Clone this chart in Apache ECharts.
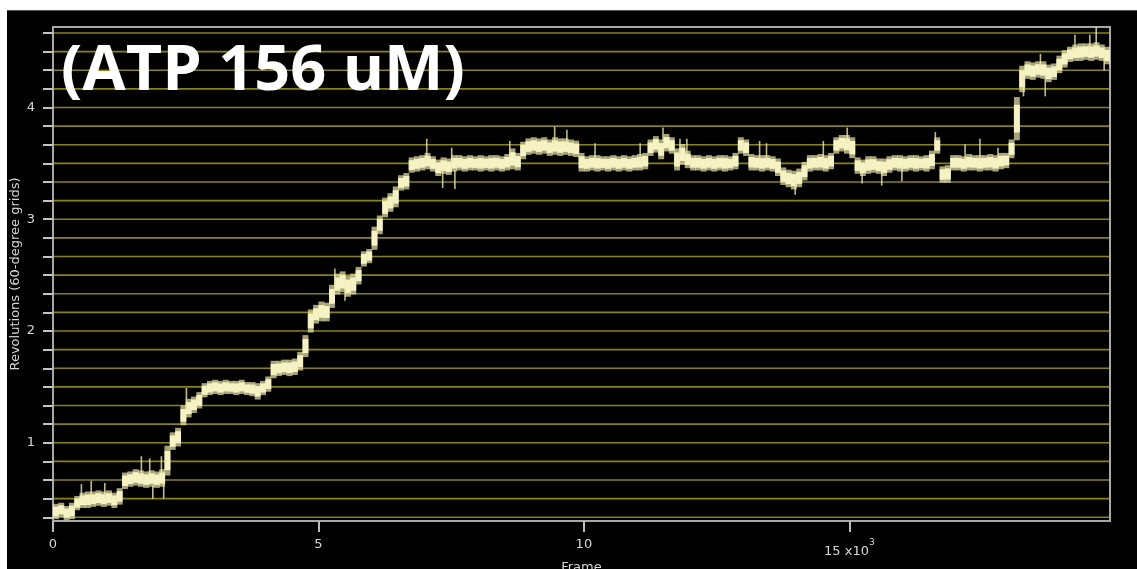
<!DOCTYPE html>
<html>
<head>
<meta charset="utf-8">
<script src="https://cdn.jsdelivr.net/npm/echarts@6/dist/echarts.min.js"></script>
<style>
  html, body { margin: 0; padding: 0; background: #ffffff; width: 1137px; height: 569px; overflow: hidden; }
  #panel { position: absolute; left: 7px; top: 10px; right: 0; bottom: 0; background: #000000; border-top: 1px solid #555555; }
  #chart { position: absolute; left: 0; top: 0; width: 1137px; height: 569px; }
</style>
</head>
<body>
<div id="panel"></div>
<div id="chart"></div>
<script>
// Rotation trace, sampled every 100 frames: lower / upper edge of the noise band (revolutions)
const frames = [];
for (let f = 0; f <= 19900; f += 100) frames.push(f);

const bandLow = [
  0.33, 0.35, 0.32, 0.33, 0.41, 0.43, 0.43, 0.44, 0.45, 0.44,
  0.45, 0.43, 0.46, 0.60, 0.62, 0.63, 0.62, 0.61, 0.62, 0.61,
  0.62, 0.72, 0.95, 0.98, 1.17, 1.24, 1.28, 1.32, 1.42, 1.44,
  1.45, 1.44, 1.45, 1.45, 1.44, 1.45, 1.44, 1.43, 1.40, 1.44,
  1.47, 1.59, 1.61, 1.62, 1.61, 1.62, 1.66, 1.78, 2.00, 2.08,
  2.10, 2.10, 2.22, 2.34, 2.36, 2.32, 2.34, 2.43, 2.59, 2.62,
  2.74, 2.88, 3.03, 3.08, 3.12, 3.27, 3.28, 3.43, 3.44, 3.45,
  3.46, 3.44, 3.40, 3.42, 3.41, 3.44, 3.45, 3.44, 3.45, 3.45,
  3.44, 3.45, 3.44, 3.45, 3.44, 3.45, 3.46, 3.45, 3.55, 3.59,
  3.60, 3.59, 3.60, 3.58, 3.59, 3.58, 3.59, 3.58, 3.57, 3.44,
  3.44, 3.45, 3.44, 3.45, 3.44, 3.45, 3.44, 3.45, 3.44, 3.45,
  3.45, 3.46, 3.58, 3.61, 3.55, 3.62, 3.60, 3.45, 3.50, 3.47,
  3.45, 3.45, 3.44, 3.45, 3.44, 3.45, 3.44, 3.45, 3.46, 3.60,
  3.58, 3.45, 3.45, 3.44, 3.45, 3.44, 3.40, 3.32, 3.30, 3.28,
  3.30, 3.36, 3.44, 3.45, 3.45, 3.44, 3.46, 3.60, 3.62, 3.60,
  3.56, 3.42, 3.40, 3.42, 3.43, 3.42, 3.40, 3.43, 3.45, 3.44,
  3.44, 3.45, 3.44, 3.45, 3.44, 3.46, 3.60, 3.34, 3.34, 3.45,
  3.45, 3.44, 3.45, 3.45, 3.44, 3.45, 3.45, 3.44, 3.46, 3.47,
  3.56, 3.72, 4.15, 4.27, 4.26, 4.28, 4.27, 4.24, 4.26, 4.32,
  4.37, 4.42, 4.43, 4.43, 4.44, 4.43, 4.44, 4.43, 4.40, 4.38
];

const bandHigh = [
  0.44, 0.45, 0.42, 0.45, 0.51, 0.54, 0.55, 0.55, 0.56, 0.55,
  0.56, 0.54, 0.58, 0.72, 0.73, 0.75, 0.74, 0.73, 0.74, 0.73,
  0.75, 0.96, 1.08, 1.12, 1.32, 1.38, 1.40, 1.44, 1.52, 1.54,
  1.55, 1.54, 1.55, 1.54, 1.54, 1.55, 1.53, 1.53, 1.52, 1.54,
  1.58, 1.72, 1.72, 1.73, 1.73, 1.74, 1.80, 1.95, 2.18, 2.22,
  2.25, 2.24, 2.40, 2.50, 2.52, 2.48, 2.50, 2.56, 2.70, 2.72,
  2.92, 3.02, 3.18, 3.22, 3.28, 3.38, 3.40, 3.54, 3.55, 3.56,
  3.58, 3.55, 3.52, 3.54, 3.53, 3.56, 3.56, 3.55, 3.56, 3.55,
  3.56, 3.55, 3.56, 3.56, 3.55, 3.57, 3.62, 3.58, 3.68, 3.71,
  3.72, 3.71, 3.72, 3.70, 3.72, 3.71, 3.71, 3.70, 3.69, 3.58,
  3.55, 3.56, 3.56, 3.55, 3.55, 3.56, 3.55, 3.56, 3.55, 3.56,
  3.57, 3.58, 3.70, 3.73, 3.70, 3.75, 3.72, 3.62, 3.66, 3.60,
  3.56, 3.56, 3.55, 3.56, 3.55, 3.56, 3.56, 3.55, 3.58, 3.72,
  3.70, 3.57, 3.56, 3.56, 3.56, 3.55, 3.53, 3.45, 3.43, 3.42,
  3.44, 3.50, 3.56, 3.56, 3.57, 3.56, 3.58, 3.72, 3.74, 3.74,
  3.72, 3.54, 3.52, 3.55, 3.55, 3.53, 3.53, 3.55, 3.56, 3.56,
  3.55, 3.56, 3.56, 3.55, 3.56, 3.60, 3.72, 3.46, 3.47, 3.56,
  3.56, 3.55, 3.57, 3.56, 3.56, 3.56, 3.57, 3.56, 3.58, 3.58,
  3.70, 4.08, 4.36, 4.40, 4.39, 4.40, 4.40, 4.37, 4.38, 4.45,
  4.50, 4.53, 4.55, 4.56, 4.56, 4.56, 4.57, 4.55, 4.53, 4.52
];

// Short excursions outside the band
const spikeFrames = [535, 720, 975, 1665, 1822, 1880, 2042, 2085, 2513, 5310, 5500, 7040, 7340, 7510, 7570, 8605, 9450, 9680, 10210, 11060, 11490, 11810, 11940, 13310, 13440, 13980, 14510, 14960, 15240, 15610, 15990, 16620, 17180, 17460, 17800, 18280, 18600, 18690, 19250, 19530, 19650, 19800];
const spikeLow = [0.50, 0.50, 0.50, 0.70, 0.70, 0.50, 0.72, 0.50, 1.30, 2.40, 2.27, 3.52, 3.28, 3.52, 3.27, 3.55, 3.65, 3.65, 3.52, 3.52, 3.70, 3.58, 3.58, 3.52, 3.52, 3.22, 3.52, 3.68, 3.32, 3.30, 3.34, 3.66, 3.52, 3.52, 3.52, 4.10, 4.36, 4.10, 4.50, 4.50, 4.52, 4.33];
const spikeHigh = [0.63, 0.66, 0.64, 0.88, 0.86, 0.62, 0.88, 0.65, 1.49, 2.56, 2.40, 3.72, 3.45, 3.64, 3.44, 3.70, 3.83, 3.80, 3.68, 3.68, 3.82, 3.72, 3.72, 3.70, 3.68, 3.36, 3.70, 3.82, 3.45, 3.45, 3.48, 3.78, 3.67, 3.72, 3.64, 4.28, 4.48, 4.28, 4.65, 4.65, 4.74, 4.46];

// Axes: one grid line / tick per 60 degrees (1/6 revolution), labels at whole revolutions
const yGridSteps = [2, 3, 4, 5, 6, 7, 8, 9, 10, 11, 12, 13, 14, 15, 16, 17, 18, 19, 20, 21, 22, 23, 24, 25, 26, 27, 28];
const yGridValues = yGridSteps.map(k => k / 6);
const yLabelValues = [1, 2, 3, 4];
const xTickValues = [0, 5000, 10000, 15000];
const frameMax = 19910;

const labelFont = 'DejaVu Sans';
const labelColor = '#d6d6d6';
const frameColor = '#a8a8a8';
const gridColor = '#8a8600';

const bandData = frames.map((f, i) => [f, i + 1 < frames.length ? frames[i + 1] : f + 100, bandLow[i], bandHigh[i]]);
const spikeData = spikeFrames.map((f, i) => [f, spikeLow[i], spikeHigh[i]]);
const gridData = yGridValues.map(v => [0, frameMax, v]);

function renderBand(params, api) {
  const a = api.coord([api.value(0), api.value(3)]);
  const b = api.coord([api.value(1), api.value(2)]);
  const w = b[0] - a[0] + 0.6;
  const top = a[1] - 1.5;
  const h = b[1] - a[1] + 3;
  const inset = h * 0.18;
  return {
    type: 'group',
    children: [
      { type: 'rect', shape: { x: a[0], y: top, width: w, height: h }, style: { fill: 'rgba(236,232,165,0.7)' } },
      { type: 'rect', shape: { x: a[0], y: top + inset, width: w, height: h - 2 * inset }, style: { fill: '#f5f2c4' } }
    ]
  };
}

function renderSpike(params, api) {
  const a = api.coord([api.value(0), api.value(2)]);
  const b = api.coord([api.value(0), api.value(1)]);
  return {
    type: 'line',
    shape: { x1: a[0], y1: a[1], x2: b[0], y2: b[1] },
    style: { stroke: 'rgba(238,234,170,0.8)', lineWidth: 1.6 }
  };
}

// Horizontal 60-degree grid lines across the plot
function renderGridLine(params, api) {
  const a = api.coord([api.value(0), api.value(2)]);
  const b = api.coord([api.value(1), api.value(2)]);
  return {
    type: 'line',
    shape: { x1: a[0] + 1, y1: a[1], x2: b[0] - 1, y2: a[1] },
    style: { stroke: gridColor, lineWidth: 1.6 }
  };
}

const chart = echarts.init(document.getElementById('chart'), null, { renderer: 'canvas' });
chart.setOption({
  backgroundColor: 'transparent',
  animation: false,
  grid: {
    left: 53, right: 27, top: 27, bottom: 48,
    outerBoundsMode: 'none',
    containLabel: false,
    show: true, borderColor: frameColor, borderWidth: 2, backgroundColor: 'transparent'
  },
  graphic: [{
    type: 'text',
    left: 61, top: 41,
    z: 100,
    style: {
      text: '(ATP 156 uM)',
      font: '700 63px "Open Sans"',
      fill: '#ffffff'
    }
  }],
  xAxis: {
    type: 'value',
    min: 0, max: frameMax,
    name: 'Frame', nameLocation: 'middle', nameGap: 40, nameMoveOverlap: false,
    nameTextStyle: { color: labelColor, fontFamily: labelFont, fontSize: 13 },
    axisLine: { show: true, lineStyle: { color: frameColor, width: 2 } },
    axisTick: { show: true, length: 11, customValues: xTickValues, lineStyle: { color: '#bbbbbb', width: 2 } },
    axisLabel: {
      customValues: xTickValues,
      margin: 17,
      color: labelColor, fontFamily: labelFont, fontSize: 13,
      formatter: v => v === 15000 ? '{b|15 x10}{s|3}' : String(v / 1000),
      rich: {
        b: { color: labelColor, fontFamily: labelFont, fontSize: 13, padding: [4, 0, 0, 0] },
        s: { color: labelColor, fontFamily: labelFont, fontSize: 9, padding: [0, 0, 14, 0] }
      }
    },
    splitLine: { show: false }
  },
  yAxis: {
    type: 'value',
    min: 0.3, max: 4.72,
    name: 'Revolutions (60-degree grids)', nameLocation: 'middle', nameGap: 31, nameRotate: 90, nameMoveOverlap: false,
    nameTextStyle: { color: labelColor, fontFamily: labelFont, fontSize: 13 },
    axisLine: { show: true, lineStyle: { color: frameColor, width: 2 } },
    axisTick: { show: true, length: 10, customValues: yGridValues, lineStyle: { color: '#c4c4c4', width: 2 } },
    axisLabel: {
      customValues: yLabelValues,
      margin: 18,
      color: labelColor, fontFamily: labelFont, fontSize: 13,
      formatter: v => String(Math.round(v))
    },
    splitLine: { show: false }
  },
  series: [
    {
      type: 'custom',
      name: 'grid',
      silent: true,
      renderItem: renderGridLine,
      encode: { x: [0, 1], y: 2 },
      data: gridData,
      z: 1
    },
    {
      type: 'custom',
      name: 'band',
      clip: true,
      renderItem: renderBand,
      encode: { x: [0, 1], y: [2, 3] },
      data: bandData,
      z: 3
    },
    {
      type: 'custom',
      name: 'spikes',
      clip: true,
      renderItem: renderSpike,
      encode: { x: 0, y: [1, 2] },
      data: spikeData,
      z: 4
    }
  ]
});
</script>
</body>
</html>
